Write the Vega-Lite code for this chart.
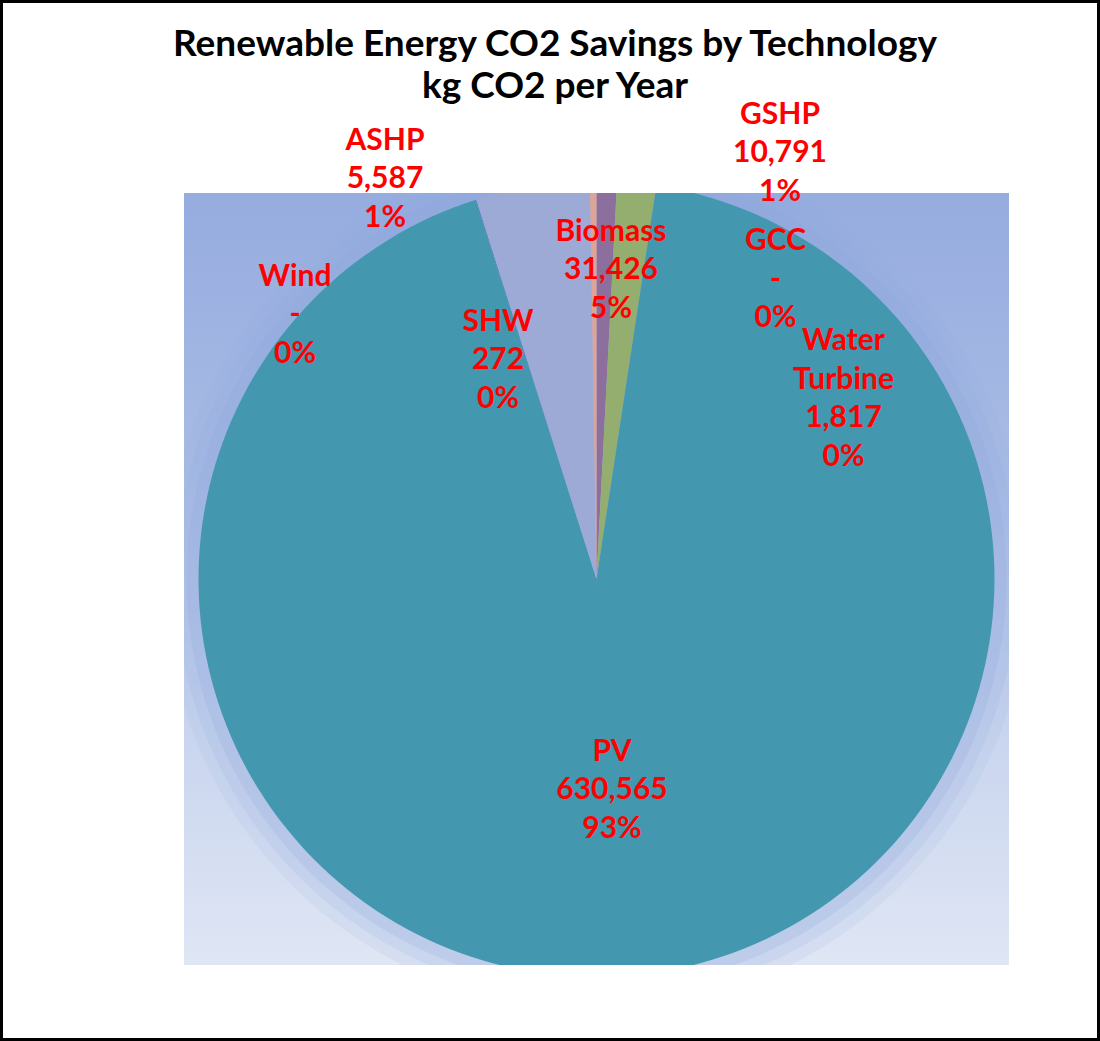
{
  "$schema": "https://vega.github.io/schema/vega-lite/v6.json",
  "background": "#000000",
  "padding": 3,
  "autosize": {"type": "pad"},
  "spacing": 0,
  "bounds": "flush",
  "columns": 3,
  "config": {
    "view": {"stroke": null},
    "concat": {"spacing": 0},
    "text": {"font": "Lato", "fontWeight": "bold", "fontSize": 30, "fill": "#ff0000", "lineBreak": "\n", "lineHeight": 38.5, "align": "center", "baseline": "middle"}
  },
  "datasets": {
    "co2": [
      {"tech": "ASHP", "value": 5587, "ord": 1, "label": "ASHP\n5,587\n1%"},
      {"tech": "GSHP", "value": 10791, "ord": 2, "label": "GSHP\n10,791\n1%"},
      {"tech": "GCC", "value": 0, "ord": 3, "label": "GCC\n-\n0%"},
      {"tech": "PV", "value": 630565, "ord": 4, "label": "PV\n630,565\n93%"},
      {"tech": "SHW", "value": 272, "ord": 5, "label": "SHW\n272\n0%"},
      {"tech": "Biomass", "value": 31426, "ord": 6, "label": "Biomass\n31,426\n5%"},
      {"tech": "Water Turbine", "value": 1817, "ord": 7, "label": "Water\nTurbine\n1,817\n0%"},
      {"tech": "Wind", "value": 0, "ord": 8, "label": "Wind\n-\n0%"}
    ],
    "blank": [{}]
  },
  "concat": [
    {"width": 181, "height": 190, "data": {"name": "blank"}, "mark": {"type": "rect", "color": "#ffffff"}, "encoding": {}},
    {
      "width": 825, "height": 190,
      "data": {"values": [{"title": "Renewable Energy CO2 Savings by Technology\nkg CO2 per Year"}]},
      "layer": [
        {"mark": {"type": "rect", "color": "#ffffff"}, "encoding": {}},
        {
          "mark": {"type": "text", "fontSize": 37, "lineHeight": 42, "fill": "#000000", "dx": -41.5, "dy": -53},
          "encoding": {"text": {"field": "title", "type": "nominal"}}
        }
      ]
    },
    {"width": 88, "height": 190, "data": {"name": "blank"}, "mark": {"type": "rect", "color": "#ffffff"}, "encoding": {}},
    {"width": 181, "height": 772, "data": {"name": "blank"}, "mark": {"type": "rect", "color": "#ffffff"}, "encoding": {}},
    {
      "width": 825, "height": 772,
      "data": {"name": "co2"},
      "layer": [
        {
          "data": {"name": "blank"},
          "mark": {"type": "rect", "color": {"gradient": "linear", "x1": 0, "y1": 0, "x2": 0, "y2": 1,
            "stops": [{"offset": 0, "color": "#96acdf"}, {"offset": 0.35, "color": "#a8bbe5"}, {"offset": 0.7, "color": "#c9d5ef"}, {"offset": 1, "color": "#dfe6f4"}]}},
          "encoding": {}
        },
        {"data": {"name": "blank"}, "mark": {"type": "arc", "theta": 0, "theta2": 6.2832, "outerRadius": 432, "color": "#8ea7dc", "opacity": 0.1, "clip": true}, "encoding": {}},
        {"data": {"name": "blank"}, "mark": {"type": "arc", "theta": 0, "theta2": 6.2832, "outerRadius": 421, "color": "#8ea7dc", "opacity": 0.15, "clip": true}, "encoding": {}},
        {"data": {"name": "blank"}, "mark": {"type": "arc", "theta": 0, "theta2": 6.2832, "outerRadius": 410, "color": "#8ea7dc", "opacity": 0.2, "clip": true}, "encoding": {}},
        {
          "mark": {"type": "arc", "outerRadius": 398, "clip": true},
          "encoding": {
            "theta": {"field": "value", "type": "quantitative", "stack": true},
            "order": {"field": "ord", "type": "quantitative"},
            "color": {"field": "tech", "type": "nominal", "legend": null,
              "scale": {"domain": ["ASHP", "GSHP", "GCC", "PV", "SHW", "Biomass", "Water Turbine", "Wind"],
                        "range": ["#8c6f9c", "#93ae6e", "#4f81bd", "#4398b0", "#4f81bd", "#9eaad6", "#dea497", "#4f81bd"]}}
          }
        },
        {"transform": [{"filter": "datum.tech === 'PV'"}], "mark": {"type": "text", "dx": 15.5, "dy": 172.5}, "encoding": {"text": {"field": "label", "type": "nominal"}}},
        {"transform": [{"filter": "datum.tech === 'Biomass'"}], "mark": {"type": "text", "dx": 14.5, "dy": -347.5}, "encoding": {"text": {"field": "label", "type": "nominal"}}},
        {"transform": [{"filter": "datum.tech === 'ASHP'"}], "mark": {"type": "text", "dx": -211.5, "dy": -438.5}, "encoding": {"text": {"field": "label", "type": "nominal"}}},
        {"transform": [{"filter": "datum.tech === 'GSHP'"}], "mark": {"type": "text", "dx": 183.5, "dy": -464.5}, "encoding": {"text": {"field": "label", "type": "nominal"}}},
        {"transform": [{"filter": "datum.tech === 'GCC'"}], "mark": {"type": "text", "dx": 179, "dy": -338}, "encoding": {"text": {"field": "label", "type": "nominal"}}},
        {"transform": [{"filter": "datum.tech === 'Water Turbine'"}], "mark": {"type": "text", "dx": 247, "dy": -238}, "encoding": {"text": {"field": "label", "type": "nominal"}}},
        {"transform": [{"filter": "datum.tech === 'Wind'"}], "mark": {"type": "text", "dx": -301.5, "dy": -302.5}, "encoding": {"text": {"field": "label", "type": "nominal"}}},
        {"transform": [{"filter": "datum.tech === 'SHW'"}], "mark": {"type": "text", "dx": -98.5, "dy": -257.5}, "encoding": {"text": {"field": "label", "type": "nominal"}}}
      ]
    },
    {"width": 88, "height": 772, "data": {"name": "blank"}, "mark": {"type": "rect", "color": "#ffffff"}, "encoding": {}},
    {"width": 181, "height": 73, "data": {"name": "blank"}, "mark": {"type": "rect", "color": "#ffffff"}, "encoding": {}},
    {"width": 825, "height": 73, "data": {"name": "blank"}, "mark": {"type": "rect", "color": "#ffffff"}, "encoding": {}},
    {"width": 88, "height": 73, "data": {"name": "blank"}, "mark": {"type": "rect", "color": "#ffffff"}, "encoding": {}}
  ]
}
